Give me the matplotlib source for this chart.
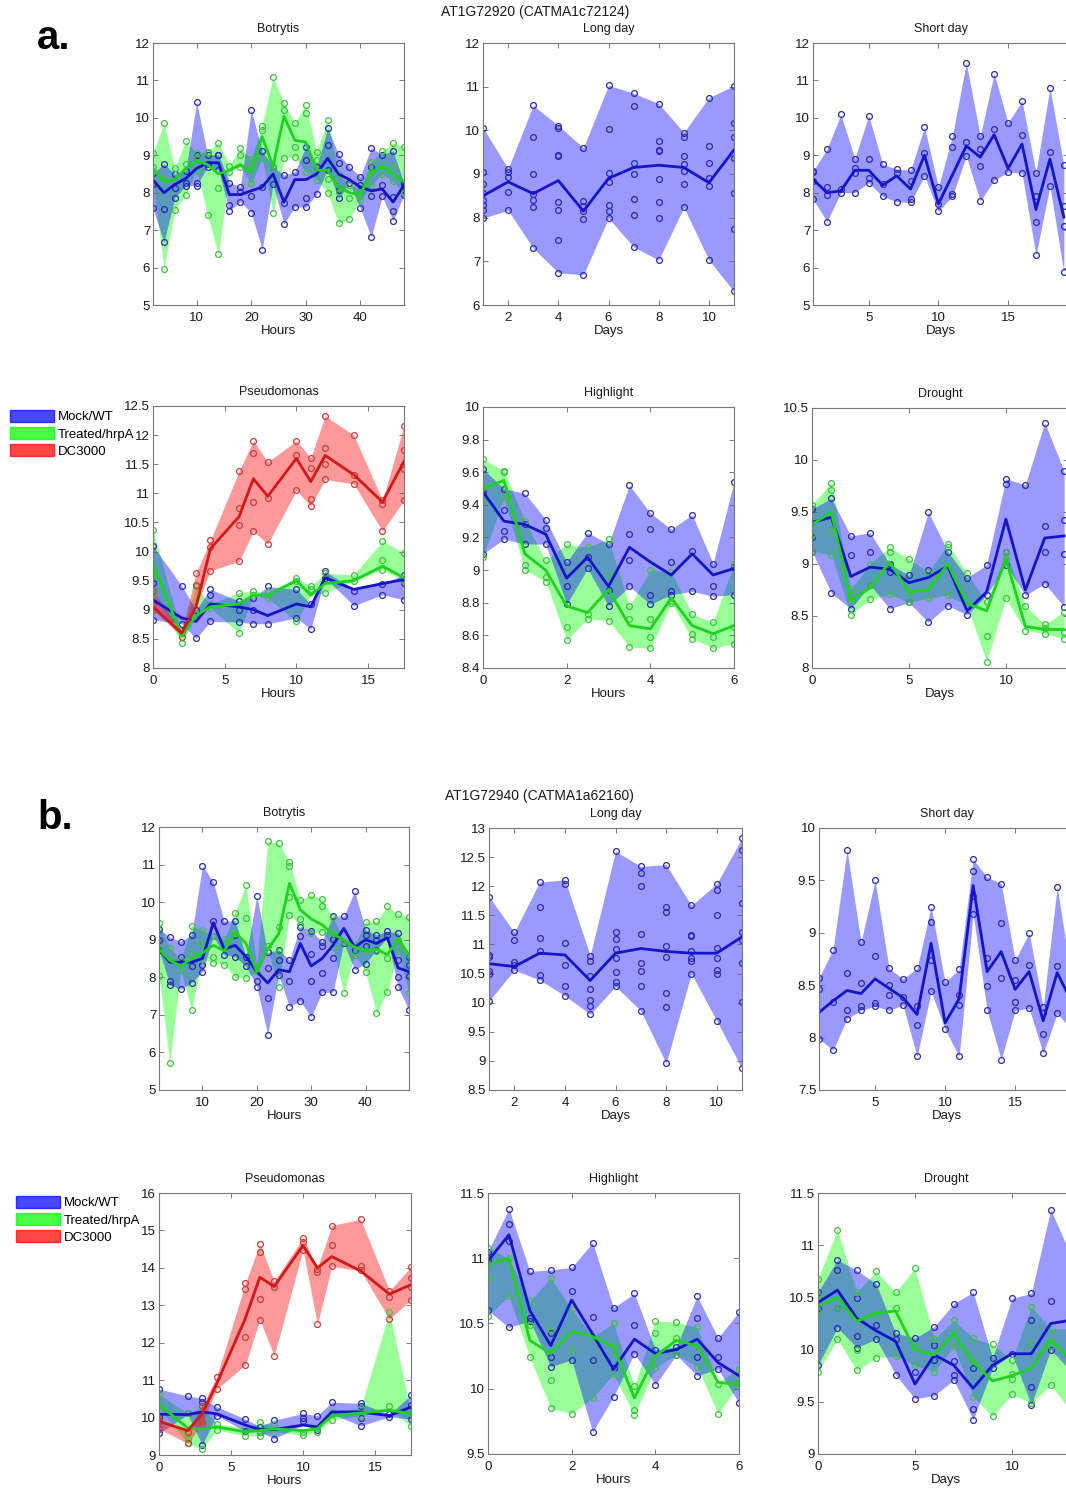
import matplotlib
matplotlib.use('Agg')
import matplotlib.pyplot as plt
from matplotlib.patches import Patch
from matplotlib.ticker import FuncFormatter, MultipleLocator

plt.rcParams['font.family'] = ['Liberation Sans', 'DejaVu Sans']

# ---------------- AT1G72920 (panel a) ----------------
bot_hours = [2, 4, 6, 8, 10, 12, 14, 16, 18, 20, 22, 24, 26, 28, 30, 32, 34, 36, 38, 40, 42, 44, 46, 48]
a_bot_mock = [8.34, 8.0, 8.22, 8.38, 8.65, 8.8, 8.8, 7.95, 7.95, 8.05, 8.15, 8.5, 7.75, 8.35,
              8.35, 8.5, 8.92, 8.5, 8.35, 8.15, 8.05, 8.1, 7.75, 8.2]
a_bot_mock_reps = [[8.52, 8.23, 7.58], [8.77, 7.56, 6.67], [8.5, 8.12, 7.87], [8.59, 8.27, 8.19],
                   [10.42, 9.02, 8.25, 8.19], [9.02, 8.77, 8.7], [9.02, 9.0, 8.6], [8.27, 7.67, 7.52],
                   [8.16, 8.03, 7.76], [10.21, 7.9, 7.47], [9.12, 8.16, 6.48], [8.7, 8.22],
                   [8.47, 7.73, 7.16], [8.56, 7.63], [9.22, 8.88, 7.85, 7.61], [8.7, 7.96],
                   [9.72, 9.28, 8.62], [9.03, 8.8, 8.07, 7.85], [8.7, 8.25], [8.43, 8.2, 7.58],
                   [9.2, 8.68, 7.9, 6.82], [9.02, 8.2, 7.9], [9.12, 7.88, 7.5, 7.25], [8.25, 8.18, 7.95]]
a_bot_trt = [8.65, 8.3, 8.35, 8.65, 8.85, 8.75, 8.5, 8.6, 8.75, 8.55, 9.5, 8.7, 10.05, 9.4,
             9.35, 8.6, 8.6, 8.15, 8.0, 7.95, 8.55, 8.7, 8.5, 8.3]
a_bot_trt_reps = [[9.05, 8.7, 8.3], [9.86, 8.36, 5.97], [8.66, 7.54], [9.39, 8.77, 7.94],
                  [9.05, 8.92, 8.6], [9.1, 9.05, 7.4], [9.34, 8.12, 6.35], [8.72, 8.56],
                  [9.19, 9.0, 8.7], [8.9, 8.7, 8.25], [9.79, 9.68, 8.92], [11.1, 8.7, 7.45],
                  [10.39, 10.21, 8.92], [9.86, 9.23, 8.96], [10.35, 10.12, 8.56], [9.1, 8.88, 8.35],
                  [9.95, 8.36, 8.0], [8.5, 8.03, 7.18], [8.2, 7.85, 7.31], [8.12, 7.9, 7.8],
                  [8.83, 8.56, 8.2], [9.12, 8.74, 8.5], [9.32, 8.7, 8.3], [9.23, 8.12, 8.0]]

ld_days = [1, 2, 3, 4, 5, 6, 7, 8, 9, 10, 11]
a_ld_mock = [8.5, 8.82, 8.55, 8.85, 8.15, 8.9, 9.15, 9.2, 9.15, 8.8, 9.55]
a_ld_mock_reps = [[10.06, 9.04, 8.78, 8.57, 8.41, 8.3, 8.18, 7.99],
                  [9.12, 9.05, 8.93, 8.58, 8.17],
                  [10.57, 9.85, 9.0, 8.55, 8.41, 8.24, 7.3],
                  [10.11, 10.06, 9.43, 9.41, 8.35, 8.17, 7.48, 6.74],
                  [9.6, 8.38, 8.26, 8.15, 7.97, 6.69],
                  [11.03, 10.02, 9.03, 8.81, 8.3, 8.15, 7.99],
                  [10.85, 10.56, 9.26, 9.01, 8.43, 8.05, 7.33],
                  [10.61, 9.75, 9.55, 9.52, 8.89, 8.35, 7.99, 7.03],
                  [9.95, 9.85, 9.41, 9.24, 9.07, 8.76, 8.24],
                  [10.75, 9.64, 9.26, 8.91, 8.72, 7.03],
                  [11.02, 10.16, 9.85, 9.37, 8.57, 7.74, 6.31]]

sd_days = [1, 2, 3, 4, 5, 6, 7, 8, 9, 10, 11, 12, 13, 14, 15, 16, 17, 18, 19]
a_sd_mock = [8.36, 8.0, 8.05, 8.6, 8.6, 8.2, 8.45, 8.1, 9.0, 7.7, 8.47, 9.25, 8.95, 9.55,
             8.65, 9.3, 7.55, 8.9, 7.35]
a_sd_mock_reps = [[8.58, 8.55, 8.31, 7.83], [9.16, 8.14, 7.93, 7.23], [10.09, 8.09, 8.0],
                  [8.91, 8.67, 8.52, 8.0], [10.06, 8.91, 8.38, 8.27], [8.76, 8.23, 7.9],
                  [8.63, 8.54, 7.76], [8.6, 8.31, 7.84, 7.74], [9.76, 9.05, 8.45],
                  [8.15, 7.69, 7.5], [9.51, 9.22, 7.96, 7.91], [11.47, 9.35, 8.98],
                  [9.51, 9.18, 8.71, 7.78], [11.18, 9.71, 8.33], [9.87, 8.55],
                  [10.45, 9.53, 8.52], [8.54, 7.91, 7.23, 6.33], [10.8, 9.09, 8.18],
                  [8.73, 7.65, 7.12, 5.87]]

pse_hours = [0, 2, 3, 4, 6, 7, 8, 10, 11, 12, 14, 16, 17.5]
a_pse_mock = [9.17, 8.86, 8.8, 9.1, 9.05, 9.0, 8.9, 9.1, 9.05, 9.55, 9.35, 9.45, 9.52]
a_pse_mock_reps = [[10.1, 9.46, 8.83], [9.41, 8.76], [9.0, 8.51], [9.35, 9.25, 8.8],
                   [9.15, 8.99, 8.79], [9.21, 8.99, 8.76], [9.4, 8.76], [9.35, 8.86],
                   [9.1, 8.67], [9.66, 9.55], [9.32, 9.07], [9.44, 9.26], [9.6, 9.46, 9.17]]
a_pse_trt = [9.8, 8.55, 8.9, 9.05, 9.1, 9.25, 9.25, 9.5, 9.25, 9.45, 9.5, 9.75, 9.55]
a_pse_trt_reps = [[10.37, 9.6, 9.29], [8.6, 8.43], [9.4, 8.92], [9.1, 9.03], [9.29, 8.6],
                  [9.32, 9.26], [9.3, 9.2], [9.55, 9.49, 8.8], [9.4, 9.35], [9.63, 9.29],
                  [9.6, 9.49], [10.18, 9.86, 9.69], [9.98, 9.49]]
a_pse_dc = [9.05, 8.6, 9.05, 10.05, 10.6, 11.25, 10.95, 11.6, 11.2, 11.65, 11.32, 10.85, 11.55]
a_pse_dc_reps = [[9.32, 9.08, 9.0], [8.63, 8.54], [9.63, 9.43], [10.19, 10.07, 9.67],
                 [11.38, 10.75, 10.45, 9.83], [11.9, 11.7, 10.85, 10.35], [11.54, 10.92, 10.13],
                 [11.9, 11.66, 11.05], [11.61, 11.43, 10.91, 10.78], [12.33, 11.78, 11.51, 11.24],
                 [12.0, 11.32, 11.16], [10.88, 10.81, 10.35], [12.16, 11.75, 11.41, 10.88]]

hl_hours = [0, 0.5, 1, 1.5, 2, 2.5, 3, 3.5, 4, 4.5, 5, 5.5, 6]
a_hl_mock = [9.48, 9.3, 9.28, 9.22, 8.95, 9.08, 8.9, 9.14, 9.05, 8.97, 9.1, 8.97, 9.01]
a_hl_mock_reps = [[9.62, 9.48, 9.1], [9.5, 9.37, 9.24, 9.19], [9.47, 9.28, 9.16],
                  [9.31, 9.26, 9.16], [9.05, 8.9, 8.79], [9.23, 9.08, 9.01], [9.16, 8.88, 8.78],
                  [9.52, 9.22, 9.06, 8.9], [9.35, 9.25, 8.85, 8.79], [9.25, 9.05, 8.87, 8.85],
                  [9.34, 9.12, 8.87], [9.04, 8.9, 8.84], [9.54, 9.02, 8.85]]
a_hl_trt = [9.5, 9.55, 9.1, 9.0, 8.78, 8.74, 8.88, 8.66, 8.64, 8.83, 8.66, 8.61, 8.66]
a_hl_trt_reps = [[9.68, 9.51, 9.44, 9.08], [9.61, 9.6, 9.44], [9.3, 9.03, 9.0],
                 [9.06, 8.96, 8.93], [9.16, 8.65, 8.57], [9.14, 8.73, 8.7], [9.19, 8.97, 8.69],
                 [8.78, 8.7, 8.53], [9.0, 8.7, 8.59, 8.52], [8.99, 8.81, 8.8],
                 [8.73, 8.61, 8.58], [8.68, 8.59, 8.52], [9.04, 8.65, 8.55]]

dr_days = [0, 1, 2, 3, 4, 5, 6, 7, 8, 9, 10, 11, 12, 13]
a_dr_mock = [9.4, 9.45, 8.88, 8.97, 8.95, 8.82, 8.87, 8.98, 8.55, 8.73, 9.43, 8.75, 9.25, 9.27]
a_dr_mock_reps = [[9.53, 9.26, 9.12], [9.63, 8.72], [9.27, 9.09, 8.57], [9.3, 9.12, 8.8],
                  [9.0, 8.92, 8.57], [8.89, 8.63], [9.5, 8.94, 8.44], [9.12, 8.6],
                  [8.87, 8.51], [8.99, 8.7], [9.82, 9.77, 9.12, 8.99], [9.76, 8.7],
                  [10.36, 9.37, 9.12, 8.81], [9.89, 9.42, 9.1, 8.59]]
a_dr_trt = [9.38, 9.5, 8.65, 8.77, 9.02, 8.73, 8.75, 9.0, 8.62, 8.55, 9.05, 8.4, 8.37, 8.37]
a_dr_trt_reps = [[9.57, 9.28, 9.12], [9.78, 9.71, 9.31, 9.09], [8.76, 8.66, 8.51],
                 [9.0, 8.8, 8.66], [9.16, 9.12, 8.71], [9.05, 8.73, 8.63], [8.92, 8.67],
                 [9.19, 9.16, 8.7], [8.91, 8.6], [8.63, 8.31, 8.06], [9.12, 9.05, 8.67],
                 [8.6, 8.36], [8.42, 8.38, 8.33], [8.54, 8.35, 8.28]]

# ---------------- AT1G72940 (panel b) ----------------
b_bot_mock = [8.75, 8.4, 8.4, 8.4, 8.5, 9.45, 8.75, 8.85, 8.55, 8.15, 7.85, 8.2, 8.15, 8.9,
              8.3, 8.5, 8.85, 9.3, 8.8, 9.0, 8.9, 9.05, 8.25, 8.15]
b_bot_mock_reps = [[9.28, 8.98, 8.73], [9.07, 7.89, 7.8], [8.95, 8.55, 7.68], [9.13, 8.29, 7.86],
                   [10.97, 8.33, 8.15], [10.53, 9.49, 9.09], [9.49, 8.6], [9.51, 9.13, 8.55],
                   [8.55, 8.29], [10.17, 7.89, 7.75], [8.66, 8.24, 7.46, 6.47], [8.73, 8.46, 8.07],
                   [8.46, 7.89, 7.22], [9.35, 9.1, 7.37], [9.24, 8.62, 7.91, 6.94],
                   [8.95, 8.84, 8.11, 7.6], [9.64, 9.02, 8.51, 7.6], [9.62, 8.91],
                   [10.29, 8.73, 8.2], [9.26, 9.13, 8.82, 8.36], [9.13, 9.0, 8.73], [9.22, 9.13],
                   [9.18, 8.46, 8.02, 7.73], [8.55, 8.33, 8.04, 7.12]]
b_bot_trt = [8.75, 8.45, 8.3, 8.5, 8.65, 8.85, 8.7, 9.2, 8.9, 8.15, 8.75, 9.15, 10.5, 9.8,
             9.55, 9.4, 9.15, 9.0, 8.8, 8.7, 8.75, 8.6, 9.0, 8.6]
b_bot_trt_reps = [[9.44, 8.75, 8.04], [8.78, 8.45, 5.71], [8.46, 8.2], [9.37, 8.6, 7.13],
                  [9.26, 8.91, 8.5], [9.09, 8.55, 8.38], [9.02, 8.33], [9.71, 9.18, 8.0],
                  [10.46, 9.58, 7.98], [8.3, 8.15], [11.62, 8.82], [11.57, 9.35, 8.7, 7.75],
                  [11.08, 10.95, 10.15, 9.66], [10.06, 9.55, 9.4], [10.2, 9.18],
                  [10.08, 9.9, 9.2], [9.6, 9.18, 8.8], [8.95, 7.58], [8.86, 8.6],
                  [9.46, 8.7, 8.15], [9.49, 8.7, 7.04], [9.89, 8.51, 7.6], [9.69, 9.0, 8.7],
                  [9.6, 8.6, 7.58]]

b_ld_mock = [10.67, 10.62, 10.85, 10.82, 10.38, 10.85, 10.93, 10.88, 10.85, 10.85, 11.13]
b_ld_mock_reps = [[11.82, 10.82, 10.78, 10.55, 10.5, 10.03],
                  [11.21, 11.07, 10.69, 10.65, 10.56],
                  [12.07, 11.65, 11.11, 10.88, 10.47, 10.39],
                  [12.11, 12.03, 11.02, 10.65, 10.29, 10.12],
                  [10.81, 10.72, 10.45, 10.24, 10.05, 9.95, 9.8],
                  [12.6, 11.22, 11.1, 10.92, 10.76, 10.52, 10.36, 10.28],
                  [12.34, 12.23, 12.0, 11.18, 10.68, 10.55, 10.28, 9.86],
                  [12.37, 11.64, 11.55, 10.98, 10.78, 10.17, 9.93, 8.96],
                  [11.67, 11.17, 11.14, 10.89, 10.76, 10.71, 10.5],
                  [12.04, 11.94, 11.51, 10.94, 10.76, 10.56, 10.49, 9.69],
                  [12.83, 12.62, 11.71, 11.22, 11.07, 10.68, 10.01, 8.87]]

b_sd_mock = [8.24, 8.35, 8.45, 8.42, 8.56, 8.47, 8.38, 8.22, 8.9, 8.14, 8.37, 9.45, 8.63, 8.82,
             8.46, 8.63, 8.16, 8.62, 8.35]
b_sd_mock_reps = [[8.57, 8.46, 7.99], [8.84, 8.34, 7.88], [9.79, 8.62, 8.26, 8.18],
                  [8.91, 8.52, 8.3, 8.26], [9.5, 8.78, 8.33, 8.3], [8.66, 8.5, 8.41, 8.26],
                  [8.56, 8.39, 8.31], [8.66, 8.3, 8.12, 7.82], [9.25, 9.1, 8.74, 8.44],
                  [8.53, 8.08], [8.65, 8.41, 8.31, 7.82], [9.7, 9.59, 9.35, 9.18],
                  [9.53, 8.76, 8.49, 8.26], [9.47, 9.09, 8.57, 7.79], [8.74, 8.55, 8.34, 8.26],
                  [9.0, 8.69, 8.28], [8.29, 8.23, 8.03, 7.85], [9.44, 8.68, 8.23],
                  [8.58, 8.27, 8.08]]

b_pse_mock = [10.09, 10.08, 10.15, 10.1, 9.8, 9.68, 9.68, 9.8, 9.75, 10.15, 10.15, 10.05, 10.28]
b_pse_mock_reps = [[10.76, 10.05, 9.58], [10.58, 10.11], [10.51, 10.42, 9.27], [10.29, 10.05],
                   [9.96, 9.64], [9.76, 9.62], [9.93, 9.44], [10.11, 10.0, 9.91],
                   [10.05, 9.67], [10.41, 10.1], [10.38, 10.32, 10.0, 9.78], [10.09, 10.02],
                   [10.6, 10.34, 9.96]]
b_pse_trt = [10.35, 9.72, 9.7, 9.75, 9.62, 9.65, 9.7, 9.65, 9.7, 10.05, 10.12, 10.2, 10.1]
b_pse_trt_reps = [[10.62, 10.25], [10.11, 9.44, 9.31], [10.29, 9.16], [9.84, 9.67],
                  [9.71, 9.51], [9.87, 9.62, 9.51], [9.8, 9.62], [9.62, 9.53], [9.71, 9.62],
                  [10.14, 9.93], [10.26, 10.05], [12.83, 10.32], [10.11, 9.78]]
b_pse_dc = [9.9, 9.65, 10.1, 10.9, 12.65, 13.75, 13.5, 14.6, 14.0, 14.3, 13.92, 13.3, 13.55]
b_pse_dc_reps = [[9.96, 9.89, 9.7], [9.62, 9.31], [10.32, 9.91, 9.84], [11.09, 10.76],
                 [13.59, 13.44, 12.14, 11.41], [14.64, 14.42, 13.17, 12.61],
                 [13.64, 13.48, 11.65], [14.8, 14.69, 14.48], [13.98, 13.9, 12.49],
                 [15.13, 14.62, 14.04], [15.3, 14.06, 13.95], [13.39, 13.23, 12.63],
                 [14.02, 13.73, 13.48, 13.15]]

b_hl_mock = [10.98, 11.18, 10.6, 10.33, 10.68, 10.42, 10.15, 10.38, 10.27, 10.3, 10.38, 10.2, 10.1]
b_hl_mock_reps = [[11.05, 10.98, 10.6], [11.38, 11.26, 11.13, 10.47], [10.9, 10.54, 10.52],
                  [10.91, 10.43, 10.24, 10.17], [10.93, 10.75, 10.22], [11.12, 10.55, 10.22, 9.67],
                  [10.62, 10.16, 9.94], [10.73, 10.49, 10.27], [10.3, 10.03], [10.32, 10.26],
                  [10.71, 10.54, 10.24, 10.1], [10.39, 10.24, 10.15], [10.59, 9.89]]
b_hl_trt = [10.95, 11.0, 10.37, 10.27, 10.44, 10.4, 10.32, 9.93, 10.25, 10.37, 10.33, 10.05, 10.03]
b_hl_trt_reps = [[11.08, 10.85, 10.56], [11.0, 10.71], [10.67, 10.49, 10.24],
                 [10.85, 10.45, 10.07, 9.85], [10.61, 10.3, 9.81], [10.39, 9.93],
                 [10.5, 10.33, 10.11], [10.02, 9.84, 9.8], [10.52, 10.43, 10.16],
                 [10.51, 10.39, 10.26], [10.47, 10.17], [10.04, 9.81], [10.15, 10.05, 10.03]]

b_dr_mock = [10.45, 10.57, 10.3, 10.18, 10.08, 9.67, 9.95, 9.85, 9.63, 9.85, 9.96, 9.96, 10.25, 10.28]
b_dr_mock_reps = [[10.55, 10.4, 9.85], [10.86, 10.76, 10.4, 10.21], [10.76, 10.49, 10.13, 10.02],
                  [10.63, 10.24, 10.1], [10.16, 10.1, 9.76], [10.11, 9.79, 9.53],
                  [10.22, 10.04, 9.9, 9.56], [10.44, 9.89, 9.76, 9.71], [10.55, 9.82, 9.43, 9.33],
                  [9.92, 9.82], [10.49, 9.96], [10.54, 10.28, 9.64, 9.47], [11.34, 10.47, 10.0],
                  [10.92, 10.35, 9.8]]
b_dr_trt = [10.42, 10.5, 10.27, 10.35, 10.37, 10.0, 9.95, 10.15, 9.88, 9.7, 9.75, 9.82, 10.1, 9.9]
b_dr_trt_reps = [[10.68, 10.52, 10.36, 9.79], [11.15, 10.4, 10.1], [10.55, 10.0, 9.8],
                 [10.75, 10.34, 9.92], [10.55, 10.4, 9.94], [10.78, 10.03, 9.85], [10.1, 9.79],
                 [10.28, 10.17, 10.03], [10.11, 9.89, 9.55], [10.05, 9.36], [9.9, 9.77, 9.72, 9.57],
                 [10.41, 10.05, 9.49], [10.2, 10.03, 9.66], [10.2, 9.92, 9.42]]

legend_labels = ['Mock/WT', 'Treated/hrpA', 'DC3000']

# colours per condition: fill, mean line, replicate circles
MOCK = ((0, 0, 1), '#1414c8', '#2a2ab4')
TRT = ((0, 1, 0), '#1ed21e', '#3cc43c')
DC = ((1, 0, 0), '#d21818', '#d03a3a')

W, H = 1066, 1490
fig = plt.figure(figsize=(W / 100, H / 100), dpi=100)


def add_axes(l, t, r, b):
    # pixel box -> figure fraction
    return fig.add_axes([l / W, 1 - b / H, (r - l) / W, (b - t) / H])


def panel(ax, x, groups, title, xlabel, xlim, ylim, xticks, ystep):
    # treated band goes underneath, mock band over it, DC3000 on top
    order = {TRT: 0, MOCK: 1, DC: 2}
    for mean, reps, col in sorted(groups, key=lambda g: order[g[2]]):
        lo = [min(min(r), m) for r, m in zip(reps, mean)]
        hi = [max(max(r), m) for r, m in zip(reps, mean)]
        ax.fill_between(x, lo, hi, color=col[0], alpha=0.4, lw=0)
    for mean, reps, col in groups:
        xs = [xi for xi, r in zip(x, reps) for _ in r]
        ys = [v for r in reps for v in r]
        ax.plot(xs, ys, 'o', mfc='none', mec=col[2], ms=4.2, mew=0.9)
    for mean, reps, col in groups:
        ax.plot(x, mean, '-', color=col[1], lw=2.0)
    ax.set_xlim(*xlim)
    ax.set_ylim(*ylim)
    ax.set_xticks(xticks)
    ax.yaxis.set_major_locator(MultipleLocator(ystep))
    ax.yaxis.set_major_formatter(FuncFormatter(lambda v, p: '%g' % round(v, 2)))
    ax.tick_params(direction='in', length=3.5, width=0.6, color='#666666',
                   top=True, right=True, labelsize=9.5, labelcolor='#1a1a1a')
    ax.tick_params(axis='x', pad=5)
    ax.tick_params(axis='y', pad=2)
    for s in ax.spines.values():
        s.set_color('#777777')
        s.set_linewidth(0.8)
    ax.set_title(title, fontsize=9, pad=8, color='#1a1a1a')
    ax.set_xlabel(xlabel, fontsize=9.5, labelpad=1, color='#1a1a1a')


# panel a
ax = add_axes(153, 43, 404, 305)
panel(ax, bot_hours, [(a_bot_mock, a_bot_mock_reps, MOCK), (a_bot_trt, a_bot_trt_reps, TRT)],
      'Botrytis', 'Hours', (2, 48), (5, 12), [10, 20, 30, 40], 1)
ax = add_axes(483, 43, 734, 305)
panel(ax, ld_days, [(a_ld_mock, a_ld_mock_reps, MOCK)],
      'Long day', 'Days', (1, 11), (6, 12), [2, 4, 6, 8, 10], 1)
ax = add_axes(813, 43, 1068, 305)
panel(ax, sd_days, [(a_sd_mock, a_sd_mock_reps, MOCK)],
      'Short day', 'Days', (1, 19.3), (5, 12), [5, 10, 15], 1)
ax = add_axes(153, 406, 404, 668)
panel(ax, pse_hours, [(a_pse_mock, a_pse_mock_reps, MOCK), (a_pse_trt, a_pse_trt_reps, TRT),
                      (a_pse_dc, a_pse_dc_reps, DC)],
      'Pseudomonas', 'Hours', (0, 17.5), (8, 12.5), [0, 5, 10, 15], 0.5)
ax = add_axes(483, 407, 734, 668)
panel(ax, hl_hours, [(a_hl_mock, a_hl_mock_reps, MOCK), (a_hl_trt, a_hl_trt_reps, TRT)],
      'Highlight', 'Hours', (0, 6), (8.4, 10), [0, 2, 4, 6], 0.2)
ax = add_axes(812, 408, 1068, 668)
panel(ax, dr_days, [(a_dr_mock, a_dr_mock_reps, MOCK), (a_dr_trt, a_dr_trt_reps, TRT)],
      'Drought', 'Days', (0, 13.2), (8, 10.5), [0, 5, 10], 0.5)

# panel b
ax = add_axes(159, 827, 409, 1090)
panel(ax, bot_hours, [(b_bot_mock, b_bot_mock_reps, MOCK), (b_bot_trt, b_bot_trt_reps, TRT)],
      'Botrytis', 'Hours', (2, 48), (5, 12), [10, 20, 30, 40], 1)
ax = add_axes(489, 828, 742, 1090)
panel(ax, ld_days, [(b_ld_mock, b_ld_mock_reps, MOCK)],
      'Long day', 'Days', (1, 11), (8.5, 13), [2, 4, 6, 8, 10], 0.5)
ax = add_axes(819, 828, 1074, 1090)
panel(ax, sd_days, [(b_sd_mock, b_sd_mock_reps, MOCK)],
      'Short day', 'Days', (1, 19.2), (7.5, 10), [5, 10, 15], 0.5)
ax = add_axes(159, 1193, 411, 1455)
panel(ax, pse_hours, [(b_pse_mock, b_pse_mock_reps, MOCK), (b_pse_trt, b_pse_trt_reps, TRT),
                      (b_pse_dc, b_pse_dc_reps, DC)],
      'Pseudomonas', 'Hours', (0, 17.5), (9, 16), [0, 5, 10, 15], 1)
ax = add_axes(488, 1193, 739, 1454)
panel(ax, hl_hours, [(b_hl_mock, b_hl_mock_reps, MOCK), (b_hl_trt, b_hl_trt_reps, TRT)],
      'Highlight', 'Hours', (0, 6), (9.5, 11.5), [0, 2, 4, 6], 0.5)
ax = add_axes(818, 1193, 1074, 1454)
panel(ax, dr_days, [(b_dr_mock, b_dr_mock_reps, MOCK), (b_dr_trt, b_dr_trt_reps, TRT)],
      'Drought', 'Days', (0, 13.2), (9, 11.5), [0, 5, 10], 0.5)

# legends beside the Pseudomonas panels
handles = [Patch(facecolor=c[0], edgecolor=c[0], alpha=0.72) for c in (MOCK, TRT, DC)]
for lx, ly in [(10, 410), (16, 1196)]:
    fig.legend(handles, legend_labels, loc='upper left', bbox_to_anchor=(lx / W, 1 - ly / H),
               frameon=False, fontsize=9.5, handlelength=3.3, handleheight=1.0,
               labelspacing=0.28, handletextpad=0.3, borderpad=0, borderaxespad=0)

# gene headers and panel letters
fig.text(441 / W, 1 - 12 / H, 'AT1G72920 (CATMA1c72124)', fontsize=10, va='center', color='#1a1a1a')
fig.text(445 / W, 1 - 796 / H, 'AT1G72940 (CATMA1a62160)', fontsize=10, va='center', color='#1a1a1a')
fig.text(37 / W, 1 - 38 / H, 'a.', fontsize=29, fontweight='bold', va='center')
fig.text(37 / W, 1 - 818 / H, 'b.', fontsize=29, fontweight='bold', va='center')

fig.savefig('out.png', dpi=100)
